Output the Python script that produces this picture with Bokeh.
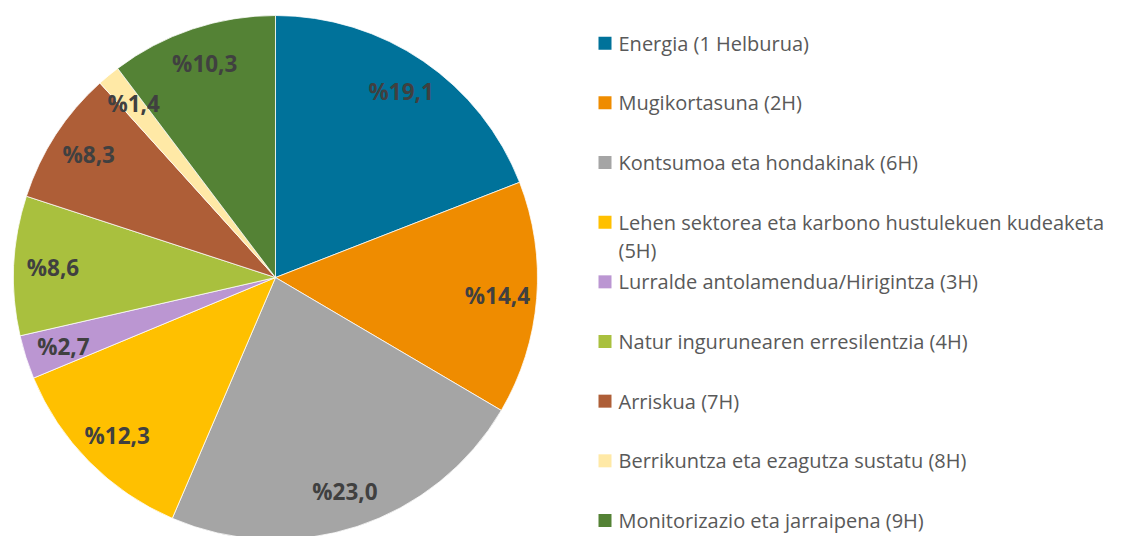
import math
from bokeh.plotting import figure
from bokeh.models import Range1d, ColumnDataSource
from bokeh.core.properties import value
from bokeh.embed import file_html
from bokeh.resources import INLINE

categories = [
    "Energia (1 Helburua)",
    "Mugikortasuna (2H)",
    "Kontsumoa eta hondakinak (6H)",
    "Lehen sektorea eta karbono hustulekuen kudeaketa\n(5H)",
    "Lurralde antolamendua/Hirigintza (3H)",
    "Natur ingurunearen erresilentzia (4H)",
    "Arriskua (7H)",
    "Berrikuntza eta ezagutza sustatu (8H)",
    "Monitorizazio eta jarraipena (9H)",
]
values = [19.1, 14.4, 23.0, 12.3, 2.7, 8.6, 8.3, 1.4, 10.3]
labels = ["%19,1", "%14,4", "%23,0", "%12,3", "%2,7", "%8,6", "%8,3", "%1,4", "%10,3"]
colors = ["#00729A", "#EF8C00", "#A5A5A5", "#FFC000", "#BB96D2",
          "#A9C03E", "#AE5E37", "#FFE9A6", "#548235"]

W, H = 1128, 536
p = figure(width=W, height=H, x_range=Range1d(0, W), y_range=Range1d(0, H),
           output_backend="svg", toolbar_location=None, min_border=0)
p.axis.visible = False
p.grid.visible = False
p.outline_line_color = None

cx, cy, r = 275, H - 277, 262
total = sum(values)
starts, ends, lx, ly = [], [], [], []
cum = 0.0
for v in values:
    a0 = math.pi / 2 - 2 * math.pi * cum / total
    cum += v
    a1 = math.pi / 2 - 2 * math.pi * cum / total
    starts.append(a0)
    ends.append(a1)
    mid = (a0 + a1) / 2
    lx.append(cx + 0.85 * r * math.cos(mid))
    ly.append(cy + 0.86 * r * math.sin(mid))

src = ColumnDataSource(dict(start=starts, end=ends, color=colors, lx=lx, ly=ly, label=labels))
p.wedge(x=cx, y=cy, radius=r, start_angle="start", end_angle="end", direction="clock",
        fill_color="color", line_color="white", line_width=0.75, source=src)
p.text(x="lx", y="ly", text="label", source=src, text_align="center", text_baseline="middle",
       text_font=value("Open Sans"), text_font_style="bold", text_font_size="22.5px",
       text_color="#404040")

# legend
row0, step = 42.7, 59.66
ys = [H - (row0 + i * step) for i in range(len(categories))]
lsrc = ColumnDataSource(dict(x=[604.5] * len(categories), y=ys, color=colors,
                             tx=[618] * len(categories), ty=[y + 13.5 for y in ys], text=categories))
p.rect(x="x", y="y", width=13, height=13, fill_color="color", line_color=None, source=lsrc)
p.text(x="tx", y="ty", text="text", source=lsrc, text_align="left", text_baseline="top",
       text_font=value("Open Sans"), text_font_size="20px", text_color="#595959",
       text_line_height=1.05)

open("out.html", "w").write(file_html(p, INLINE))
